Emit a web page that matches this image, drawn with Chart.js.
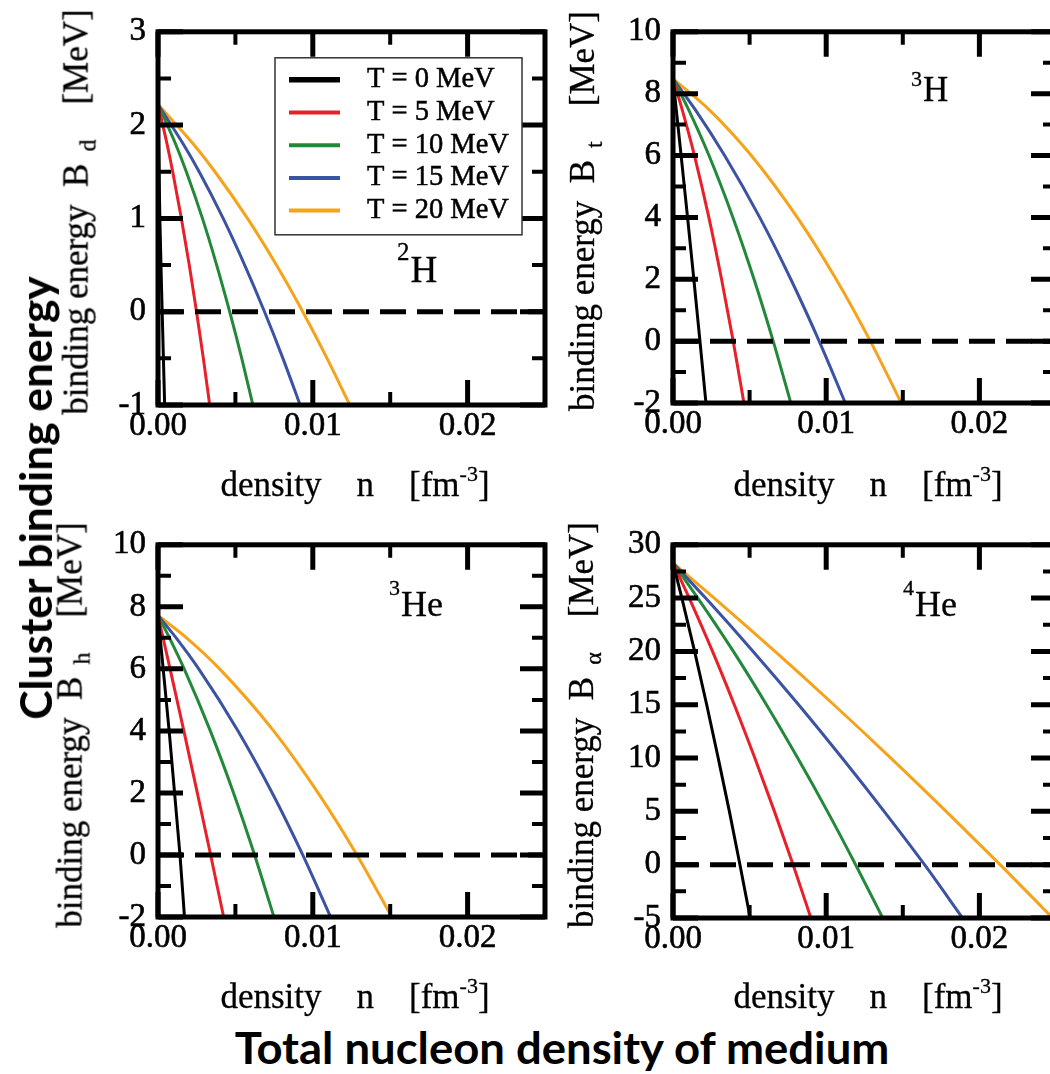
<!DOCTYPE html>
<html>
<head>
<meta charset="utf-8">
<script src="https://cdn.jsdelivr.net/npm/chart.js@4.4.1/dist/chart.umd.min.js"></script>
<style>
  html, body { margin: 0; padding: 0; background: #fff; }
  body { width: 1050px; height: 1074px; position: relative; overflow: hidden; font-family: 'Liberation Serif', 'Times New Roman', serif; color: #000; }
  canvas { position: absolute; }
  .ytitle { position: absolute; white-space: pre; font-size: 35px; line-height: 35px; transform: translate(-50%, -50%) rotate(-90deg); -webkit-text-stroke: 0.3px #000; }
  .ytitle .sub { font-size: 24px; position: relative; top: 8px; margin-left: 12px; }
  .xtitle { position: absolute; white-space: pre; font-size: 35px; line-height: 35px; transform: translateX(-50%); -webkit-text-stroke: 0.3px #000; }
  .xtitle .sup { font-size: 22px; position: relative; top: -15px; }
  .tag { position: absolute; white-space: pre; -webkit-text-stroke: 0.3px #000; }
  .tag .sup { position: relative; margin-right: 1px; }
  .big { position: absolute; white-space: pre; font-family: Lato, 'Open Sans', sans-serif; font-weight: 700; font-size: 44px; line-height: 44px; }
</style>
</head>
<body>
<canvas id="c1" width="507" height="465" style="left:58px;top:0px"></canvas>
<canvas id="c2" width="503" height="463" style="left:573px;top:0px"></canvas>
<canvas id="c3" width="507" height="464" style="left:58px;top:513px"></canvas>
<canvas id="c4" width="503" height="465" style="left:573px;top:513px"></canvas>

<div class="ytitle" style="left:78px;top:212px">binding energy  B<span class="sub">d</span>    [MeV]</div>
<div class="ytitle" style="left:584px;top:211px">binding energy  B<span class="sub">t</span>    [MeV]</div>
<div class="ytitle" style="left:72px;top:725px">binding energy  B<span class="sub">h</span>    [MeV]</div>
<div class="ytitle" style="left:583px;top:725px">binding energy  B<span class="sub">α</span>    [MeV]</div>

<div class="xtitle" style="left:355px;top:467px">density    n    [fm<span class="sup">-3</span>]</div>
<div class="xtitle" style="left:868px;top:467px">density    n    [fm<span class="sup">-3</span>]</div>
<div class="xtitle" style="left:355px;top:979px">density    n    [fm<span class="sup">-3</span>]</div>
<div class="xtitle" style="left:868px;top:979px">density    n    [fm<span class="sup">-3</span>]</div>

<div class="tag" style="left:397px;top:251px;font-size:37px;line-height:37px"><span class="sup" style="font-size:25px;top:-22px">2</span>H</div>
<div class="tag" style="left:911px;top:72px;font-size:35px;line-height:35px"><span class="sup" style="font-size:22px;top:-15px">3</span>H</div>
<div class="tag" style="left:389px;top:586px;font-size:36px;line-height:36px"><span class="sup" style="font-size:22px;top:-21px">3</span>He</div>
<div class="tag" style="left:903px;top:586px;font-size:36px;line-height:36px"><span class="sup" style="font-size:22px;top:-21px">4</span>He</div>

<div class="big" id="bigY" style="left:35px;top:498px">Cluster binding energy</div>
<div class="big" id="bigX" style="left:562px;top:1025px">Total nucleon density of medium</div>

<script>
// temperatures of the medium
const tempLabels = ['T = 0 MeV', 'T = 5 MeV', 'T = 10 MeV', 'T = 15 MeV', 'T = 20 MeV'];
const lineColors = ['#000000', '#e8202a', '#23883a', '#3c52a3', '#f7a21b'];

// x axis (density, fm^-3)
const xRange = [0, 0.025];
const xTickValues = [0, 0.01, 0.02];
const xTickLabels = ['0.00', '0.01', '0.02'];
const xMinorValues = [0.005, 0.015];

// 2H : [n, B_d]
const h2T0 = [[0, 2.22], [0.00012, 1], [0.00027, 0], [0.00043, -1]];
const h2T5 = [[0, 2.22], [0.00058, 1.8], [0.00095, 1.5], [0.00151, 1], [0.00202, 0.5], [0.00249, 0], [0.00293, -0.5], [0.00334, -1]];
const h2T10 = [[0, 2.22], [0.00113, 1.8], [0.00183, 1.5], [0.00287, 1], [0.00379, 0.5], [0.00463, 0], [0.00541, -0.5], [0.00613, -1]];
const h2T15 = [[0, 2.22], [0.00162, 1.8], [0.00266, 1.5], [0.00421, 1], [0.0056, 0.5], [0.00688, 0], [0.00807, -0.5], [0.00918, -1]];
const h2T20 = [[0, 2.22], [0.00227, 1.8], [0.00368, 1.5], [0.00578, 1], [0.00765, 0.5], [0.00935, 0], [0.01092, -0.5], [0.01239, -1]];
const h2YTicks = [-1, 0, 1, 2, 3];
const h2YMinor = [-0.5, 0.5, 1.5, 2.5];

// 3H : [n, B_t]
const h3T0 = [[0, 8.48], [0.00053, 6], [0.00095, 4], [0.00136, 2], [0.00176, 0], [0.00215, -2]];
const h3T5 = [[0, 8.48], [0.00059, 7.5], [0.0014, 6], [0.00234, 4], [0.00317, 2], [0.00393, 0], [0.00463, -2]];
const h3T10 = [[0, 8.48], [0.001, 7.5], [0.00235, 6], [0.00391, 4], [0.00529, 2], [0.00654, 0], [0.00769, -2]];
const h3T15 = [[0, 8.48], [0.00143, 7.5], [0.00337, 6], [0.00566, 4], [0.00769, 2], [0.00954, 0], [0.01125, -2]];
const h3T20 = [[0, 8.48], [0.00232, 7.5], [0.00511, 6], [0.00811, 4], [0.01065, 2], [0.01288, 0], [0.0149, -2]];

// 3He : [n, B_h]
const he3T0 = [[0, 7.72], [0.00072, 4], [0.00142, 0], [0.00171, -2]];
const he3T5 = [[0, 7.72], [0.00078, 6], [0.00167, 4], [0.00254, 2], [0.0034, 0], [0.00424, -2]];
const he3T10 = [[0, 7.72], [0.00074, 7], [0.00169, 6], [0.00338, 4], [0.00488, 2], [0.00624, 0], [0.00749, -2]];
const he3T15 = [[0, 7.72], [0.00117, 7], [0.00263, 6], [0.00517, 4], [0.00738, 2], [0.00935, 0], [0.01115, -2]];
const he3T20 = [[0, 7.72], [0.00184, 7], [0.00398, 6], [0.00747, 4], [0.01034, 2], [0.01285, 0], [0.0151, -2]];
const tYTicks = [-2, 0, 2, 4, 6, 8, 10];
const tYMinor = [-1, 1, 3, 5, 7, 9];

// 4He : [n, B_alpha]
const he4T0 = [[0, 28.3], [0.00058, 25], [0.00141, 20], [0.0022, 15], [0.00295, 10], [0.00368, 5], [0.00437, 0], [0.00504, -5]];
const he4T5 = [[0, 28.3], [0.00106, 25], [0.00258, 20], [0.004, 15], [0.00534, 10], [0.00662, 5], [0.00784, 0], [0.009, -5]];
const he4T10 = [[0, 28.3], [0.00162, 25], [0.00394, 20], [0.0061, 15], [0.00814, 10], [0.01008, 5], [0.01192, 0], [0.01369, -5]];
const he4T15 = [[0, 28.3], [0.00213, 25], [0.00523, 20], [0.0082, 15], [0.01104, 10], [0.01378, 5], [0.01642, 0], [0.0189, -5]];
const he4T20 = [[0, 28.3], [0.00269, 25], [0.00666, 20], [0.0105, 15], [0.01422, 10], [0.01783, 5], [0.02135, 0], [0.02478, -5]];
const he4YTicks = [-5, 0, 5, 10, 15, 20, 25, 30];
const he4YMinor = [-2.5, 2.5, 7.5, 12.5, 17.5, 22.5, 27.5];

Chart.defaults.font.family = "'Liberation Serif', 'Times New Roman', serif";
Chart.defaults.color = '#000';

// thick frame with inward ticks on all four sides
const frameTicks = {
  id: 'frameTicks',
  afterDatasetsDraw(chart, args, o) {
    const { ctx, chartArea: a, scales: { x, y } } = chart;
    ctx.save();
    ctx.strokeStyle = '#000';
    const xt = (vals, len, w) => {
      ctx.lineWidth = w;
      ctx.beginPath();
      vals.forEach(v => {
        const p = x.getPixelForValue(v);
        ctx.moveTo(p, a.bottom); ctx.lineTo(p, a.bottom - len);
        ctx.moveTo(p, a.top); ctx.lineTo(p, a.top + len);
      });
      ctx.stroke();
    };
    const yt = (vals, len, w) => {
      ctx.lineWidth = w;
      ctx.beginPath();
      vals.forEach(v => {
        const p = y.getPixelForValue(v);
        ctx.moveTo(a.left, p); ctx.lineTo(a.left + len, p);
        ctx.moveTo(a.right, p); ctx.lineTo(a.right - len, p);
      });
      ctx.stroke();
    };
    xt(o.xMajor, 25, 5);
    xt(o.xMinor, 13, 4);
    yt(o.yMajor, 25, 5);
    yt(o.yMinor, 13, 4);
    ctx.lineWidth = 5;
    ctx.strokeRect(a.left, a.top, a.right - a.left, a.bottom - a.top);
    ctx.restore();
  }
};

// boxed legend inside the plot area
const boxLegend = {
  id: 'boxLegend',
  afterDraw(chart, args, o) {
    if (!o.show) return;
    const { ctx, chartArea: a } = chart;
    const left = a.left + o.dx, top = a.top + o.dy;
    ctx.save();
    ctx.fillStyle = '#fff';
    ctx.fillRect(left, top, o.w, o.h);
    ctx.strokeStyle = '#333';
    ctx.lineWidth = 1.5;
    ctx.strokeRect(left, top, o.w, o.h);
    ctx.font = "28.5px 'Liberation Serif'";
    ctx.textBaseline = 'middle';
    chart.data.datasets.filter(d => d.inLegend).forEach((d, i) => {
      const yy = top + o.firstRow + i * o.rowGap;
      ctx.strokeStyle = d.borderColor;
      ctx.lineWidth = i === 0 ? 5.5 : 4;
      ctx.beginPath();
      ctx.moveTo(left + 14, yy);
      ctx.lineTo(left + 65, yy);
      ctx.stroke();
      ctx.fillStyle = '#000';
      ctx.strokeStyle = '#000';
      ctx.lineWidth = 0.5;
      ctx.fillText(d.label, left + 92, yy);
      ctx.strokeText(d.label, left + 92, yy);
    });
    ctx.restore();
  }
};

function panel(id, series, yMin, yMax, yMajor, yMinor, legend) {
  const datasets = series.map((pts, i) => ({
    label: tempLabels[i],
    inLegend: true,
    data: pts.map(p => ({ x: p[0], y: p[1] })),
    borderColor: lineColors[i],
    borderWidth: 3,
    pointRadius: 0,
    cubicInterpolationMode: 'monotone',
    fill: false,
    order: 1
  }));
  datasets.push({
    label: 'zero',
    inLegend: false,
    data: xRange.map(v => ({ x: v, y: 0 })),
    borderColor: '#000',
    borderWidth: 5,
    borderDash: [26, 11],
    pointRadius: 0,
    order: 0
  });

  return new Chart(document.getElementById(id), {
    type: 'line',
    data: { datasets },
    plugins: [frameTicks, boxLegend],
    options: {
      responsive: false,
      animation: false,
      layout: { padding: { left: 0, top: 20, right: 20, bottom: 0 } },
      plugins: {
        legend: { display: false },
        tooltip: { enabled: false },
        frameTicks: { xMajor: xTickValues, xMinor: xMinorValues, yMajor, yMinor },
        boxLegend: { show: legend, dx: 117, dy: 26, w: 247, h: 177, firstRow: 22, rowGap: 32.7 }
      },
      scales: {
        x: {
          type: 'linear', min: xRange[0], max: xRange[1],
          grid: { display: false, drawTicks: false },
          border: { display: false },
          afterBuildTicks: s => { s.ticks = xTickValues.map(v => ({ value: v })); },
          afterFit: s => { s.height = 60; },
          ticks: { autoSkip: false, maxRotation: 0, padding: 2, font: { size: 33 }, textStrokeColor: '#000', textStrokeWidth: 0.6, callback: (v, i) => xTickLabels[i] }
        },
        y: {
          type: 'linear', min: yMin, max: yMax,
          grid: { display: false, drawTicks: false },
          border: { display: false },
          afterBuildTicks: s => { s.ticks = yMajor.map(v => ({ value: v })); },
          afterFit: s => { s.width = 100; },
          ticks: { autoSkip: false, padding: 12, font: { size: 33 }, textStrokeColor: '#000', textStrokeWidth: 0.6, callback: v => String(v) }
        }
      }
    }
  });
}

panel('c1', [h2T0, h2T5, h2T10, h2T15, h2T20], -1, 3, h2YTicks, h2YMinor, true);
panel('c2', [h3T0, h3T5, h3T10, h3T15, h3T20], -2, 10, tYTicks, tYMinor, false);
panel('c3', [he3T0, he3T5, he3T10, he3T15, he3T20], -2, 10, tYTicks, tYMinor, false);
panel('c4', [he4T0, he4T5, he4T10, he4T15, he4T20], -5, 30, he4YTicks, he4YMinor, false);

// squeeze the big labels to the length they have in the figure
function squeeze(el, target, base) {
  const k = target / el.offsetWidth;
  el.style.transform = base + ' scaleX(' + k.toFixed(3) + ')';
}
squeeze(document.getElementById('bigY'), 443, 'translate(-50%, -50%) rotate(-90deg)');
squeeze(document.getElementById('bigX'), 655, 'translateX(-50%)');
</script>
</body>
</html>
